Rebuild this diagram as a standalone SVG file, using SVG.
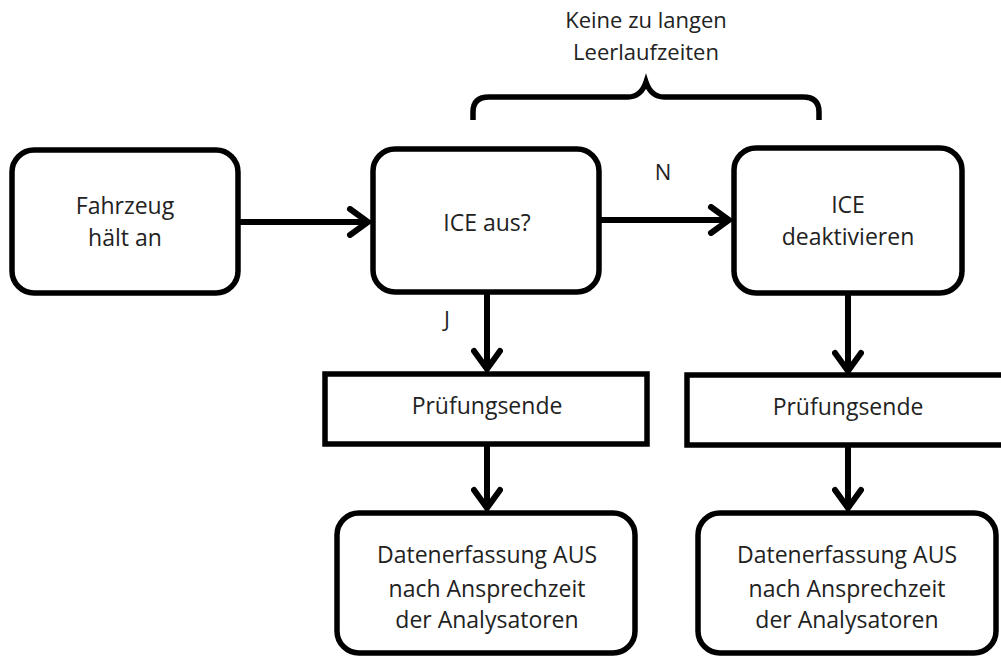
<svg xmlns="http://www.w3.org/2000/svg" width="1001" height="657" viewBox="0 0 1001 657">
<defs>
<style>
.box{fill:#fff;stroke:#000;stroke-width:5.5}
.t{font-family:"Open Sans","Liberation Sans",sans-serif;font-size:23px;fill:#222;text-anchor:middle}
.s{font-size:22px}
.c{fill:none;stroke:#000;stroke-width:6}
</style>
<marker id="ah" viewBox="-26 -16 30 32" refX="0" refY="0" markerWidth="30" markerHeight="32" orient="auto" markerUnits="userSpaceOnUse">
<path d="M-18,-13 L0,0 L-18,13" fill="none" stroke="#000" stroke-width="6" stroke-linecap="round"/>
</marker>
</defs>
<rect width="1001" height="657" fill="#fff"/>
<g id="connectors">
<line class="c" x1="238" y1="222" x2="368" y2="222" marker-end="url(#ah)"/>
<line class="c" x1="599" y1="220" x2="729" y2="220" marker-end="url(#ah)"/>
<line class="c" x1="487" y1="292" x2="487" y2="369" marker-end="url(#ah)"/>
<line class="c" x1="848" y1="293" x2="848" y2="371" marker-end="url(#ah)"/>
<line class="c" x1="487" y1="444" x2="487" y2="508" marker-end="url(#ah)"/>
<line class="c" x1="848" y1="445" x2="848" y2="508" marker-end="url(#ah)"/>
<text class="t s" x="663" y="180">N</text>
<text class="t s" x="447" y="327">J</text>
</g>
<g id="brace">
<path d="M473,120 L473,112 Q473,97 489,97 L628,97 Q641,97 646,82 Q651,97 664,97 L803,97 Q819,97 819,112 L819,120" fill="none" stroke="#000" stroke-width="5.5"/>
<text class="t s" x="646" y="28">Keine zu langen</text>
<text class="t s" x="646" y="60">Leerlaufzeiten</text>
</g>
<g id="n1">
<rect class="box" x="12" y="150" width="226" height="143" rx="22"/>
<text class="t" x="125" y="214">Fahrzeug</text>
<text class="t" x="125" y="246">hält an</text>
</g>
<g id="n2">
<rect class="box" x="373" y="149" width="226" height="143" rx="22"/>
<text class="t" x="487" y="231">ICE aus?</text>
</g>
<g id="n3">
<rect class="box" x="734" y="148" width="228" height="145" rx="22"/>
<text class="t" x="848" y="213">ICE</text>
<text class="t" x="848" y="245">deaktivieren</text>
</g>
<g id="n4">
<rect class="box" x="325" y="374" width="322" height="70"/>
<text class="t" x="487" y="414">Prüfungsende</text>
</g>
<g id="n5">
<rect class="box" x="687" y="375" width="330" height="70"/>
<text class="t" x="848" y="415">Prüfungsende</text>
</g>
<g id="n6">
<rect class="box" x="337" y="513" width="298" height="140" rx="22"/>
<text class="t" x="487" y="563">Datenerfassung AUS</text>
<text class="t" x="487" y="597">nach Ansprechzeit</text>
<text class="t" x="487" y="628">der Analysatoren</text>
</g>
<g id="n7">
<rect class="box" x="698" y="513" width="298" height="140" rx="22"/>
<text class="t" x="847" y="563">Datenerfassung AUS</text>
<text class="t" x="847" y="597">nach Ansprechzeit</text>
<text class="t" x="847" y="628">der Analysatoren</text>
</g>
</svg>
